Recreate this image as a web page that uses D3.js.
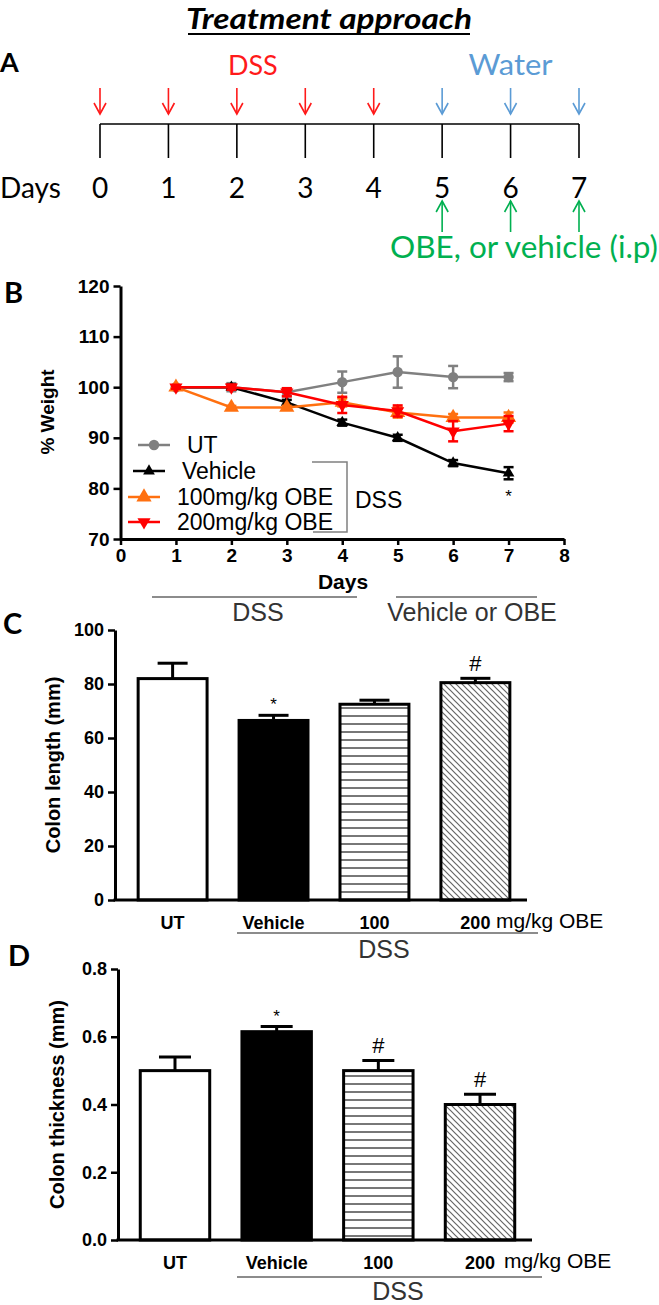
<!DOCTYPE html>
<html><head><meta charset="utf-8">
<script src="https://cdn.jsdelivr.net/npm/d3@7"></script>
<style>body{margin:0;background:#fff}svg{display:block}</style>
</head><body>
<svg id="fig" width="659" height="1305"></svg>
<script>
// ---------------- DATA ----------------
const timelineDays = [0,1,2,3,4,5,6,7];
const dssDays = [0,1,2,3,4];
const waterDays = [5,6,7];
const treatDays = [5,6,7];

const weightDays = [1,2,3,4,5,6,7];
const weightUT = [100,100,99,101,103,102,102];
const weightUTErr = [0.3,0.8,0.8,2.1,3.1,2.2,0.8];
const weightVehicle = [100,100,97,93,90,85,83];
const weightVehicleErr = [0.3,0.5,0.5,0.6,0.6,0.6,1.2];
const weight100 = [100,96,96,97,95,94,94];
const weight100Err = [0.3,0.3,0.3,0.8,1.0,0.7,1.0];
const weight200 = [100,100,99,96.5,95.3,91.3,92.8];
const weight200Err = [0.3,0.5,0.8,1.6,1.1,2.0,1.5];
const weightYTicks = [70,80,90,100,110,120];
const weightXTicks = [0,1,2,3,4,5,6,7,8];
const weightSeriesNames = ["UT","Vehicle","100mg/kg OBE","200mg/kg OBE"];

const groups = ["UT","Vehicle","100","200"];
const colonLength = [82,66.5,72.5,80.5];
const colonLengthErr = [5.7,1.9,1.5,1.6];
const colonLengthMarks = ["","*","","#"];
const colonLengthTicks = [0,20,40,60,80,100];
const colonThickness = [0.50,0.615,0.50,0.40];
const colonThicknessErr = [0.04,0.015,0.03,0.03];
const colonThicknessMarks = ["","*","#","#"];
const colonThicknessTicks = [0,0.2,0.4,0.6,0.8];

// ---------------- SETUP ----------------
const svg = d3.select("#fig");
const SANS = "'Liberation Sans', Arial, sans-serif";
const CAL = "Lato, 'Open Sans', sans-serif";
const RED = "#ff1a1a", BLUE = "#5b9bd5", GREEN = "#00b050";
const ORANGE = "#ff7010", GRAY = "#808080";

const defs = svg.append("defs");
const hp = defs.append("pattern").attr("id","hstripe").attr("patternUnits","userSpaceOnUse")
  .attr("width",8).attr("height",8);
hp.append("rect").attr("width",8).attr("height",8).attr("fill","#fff");
hp.append("line").attr("x1",0).attr("x2",8).attr("y1",4).attr("y2",4)
  .attr("stroke","#555").attr("stroke-width",1.6);
const dp = defs.append("pattern").attr("id","dstripe").attr("patternUnits","userSpaceOnUse")
  .attr("width",6).attr("height",6);
dp.append("rect").attr("width",6).attr("height",6).attr("fill","#fff");
dp.append("path").attr("d","M-1,-1 L7,7 M-4,2 L4,10 M2,-4 L10,4")
  .attr("stroke","#666").attr("stroke-width",1.2);

function txt(g, x, y, s, o) {
  o = o || {};
  return g.append("text").attr("x",x).attr("y",y).text(s)
    .attr("font-family", o.ff || SANS).attr("font-size", o.fs || 16)
    .attr("font-weight", o.fw || "normal").attr("font-style", o.fst || "normal")
    .attr("fill", o.fill || "#000").attr("text-anchor", o.anchor || "start");
}

// ---------------- PANEL A ----------------
const gA = svg.append("g");
const title = txt(gA, 329, 29, "Treatment approach", {ff:CAL, fs:28, fw:"bold", fst:"italic", anchor:"middle"})
  .attr("textLength", 286).attr("lengthAdjust", "spacingAndGlyphs");
const tb = title.node().getBBox();
gA.append("line").attr("x1",tb.x+2).attr("x2",tb.x+tb.width-2).attr("y1",34).attr("y2",34)
  .attr("stroke","#000").attr("stroke-width",2);
txt(gA, 0, 72, "A", {ff:CAL, fs:27, fw:"bold"});

const xA = d3.scaleLinear().domain([0,7]).range([100,579]);
txt(gA, xA(2) + 16, 75, "DSS", {ff:CAL, fs:27, fill:RED, anchor:"middle"});
txt(gA, xA(6), 75, "Water", {ff:CAL, fs:28, fill:BLUE, anchor:"middle"})
  .attr("textLength", 84).attr("lengthAdjust", "spacingAndGlyphs");

function arrow(g, x, yTail, yHead, col) {
  const dir = yHead > yTail ? 1 : -1;
  g.append("line").attr("x1",x).attr("x2",x).attr("y1",yTail).attr("y2",yHead)
    .attr("stroke",col).attr("stroke-width",1.6);
  g.append("path").attr("d",`M${x-6},${yHead-dir*11} L${x},${yHead} L${x+6},${yHead-dir*11}`)
    .attr("fill","none").attr("stroke",col).attr("stroke-width",1.6);
}
dssDays.forEach(d => arrow(gA, xA(d), 88, 114, RED));
waterDays.forEach(d => arrow(gA, xA(d), 88, 114, BLUE));
gA.append("line").attr("x1",xA(0)).attr("x2",xA(7)).attr("y1",124).attr("y2",124)
  .attr("stroke","#000").attr("stroke-width",1.6);
timelineDays.forEach(d => {
  gA.append("line").attr("x1",xA(d)).attr("x2",xA(d)).attr("y1",124).attr("y2",158)
    .attr("stroke","#000").attr("stroke-width",1.6);
  txt(gA, xA(d), 198, String(d), {ff:CAL, fs:28, anchor:"middle"});
});
txt(gA, 0, 198, "Days", {ff:CAL, fs:28});
treatDays.forEach(d => arrow(gA, xA(d), 232, 201, GREEN));
txt(gA, 658, 258, "OBE, or vehicle (i.p)", {ff:CAL, fs:30, fill:GREEN, anchor:"end"})
  .attr("textLength", 268).attr("lengthAdjust", "spacingAndGlyphs");

// ---------------- PANEL B ----------------
const gB = svg.append("g");
txt(gB, 4, 303, "B", {ff:CAL, fs:29, fw:"bold"});
const xB = d3.scaleLinear().domain([0,8]).range([120.5,564]);
const yB = d3.scaleLinear().domain([70,120]).range([539,286]);

const axYB = gB.append("g").attr("transform","translate(120.5,0)")
  .call(d3.axisLeft(yB).tickValues(weightYTicks).tickSize(7).tickSizeOuter(0).tickPadding(4));
const axXB = gB.append("g").attr("transform","translate(0,539)")
  .call(d3.axisBottom(xB).tickValues(weightXTicks).tickSize(6).tickSizeOuter(0).tickPadding(4));
[axYB, axXB].forEach(a => {
  a.select(".domain").attr("stroke-width",3);
  a.selectAll(".tick line").attr("stroke-width",2.5);
  a.selectAll("text").attr("font-family",SANS).attr("font-size",19).attr("font-weight","bold").attr("fill","#000");
});
gB.append("text").attr("transform","translate(54,412) rotate(-90)").attr("text-anchor","middle")
  .attr("font-family",SANS).attr("font-size",19).attr("font-weight","bold").text("% Weight");
txt(gB, 343, 589, "Days", {fs:21, fw:"bold", anchor:"middle"});

const seriesB = [
  {vals:weightUT, err:weightUTErr, col:GRAY, sym:d3.symbolCircle, size:85, rot:0},
  {vals:weightVehicle, err:weightVehicleErr, col:"#000", sym:d3.symbolTriangle, size:60, rot:0},
  {vals:weight100, err:weight100Err, col:ORANGE, sym:d3.symbolTriangle, size:100, rot:0},
  {vals:weight200, err:weight200Err, col:"#ff0000", sym:d3.symbolTriangle, size:75, rot:180},
];
const lineB = d3.line().x((d,i)=>xB(weightDays[i])).y(d=>yB(d));
seriesB.forEach(s => {
  const g = gB.append("g");
  g.append("path").attr("d", lineB(s.vals)).attr("fill","none").attr("stroke",s.col).attr("stroke-width",2.5);
  s.vals.forEach((v,i) => {
    const x = xB(weightDays[i]), e = s.err[i];
    const y1 = yB(v+e), y2 = yB(v-e);
    g.append("line").attr("x1",x).attr("x2",x).attr("y1",y1).attr("y2",y2).attr("stroke",s.col).attr("stroke-width",2.5);
    [y1,y2].forEach(yy => g.append("line").attr("x1",x-5).attr("x2",x+5).attr("y1",yy).attr("y2",yy)
      .attr("stroke",s.col).attr("stroke-width",2.5));
    g.append("path").attr("d", d3.symbol().type(s.sym).size(s.size)())
      .attr("transform",`translate(${x},${yB(v)}) rotate(${s.rot})`).attr("fill",s.col);
  });
});
txt(gB, xB(7), 502, "*", {fs:17, anchor:"middle"});

// legend
const legY = [445, 471, 497, 522];
const legX0 = [138, 133, 128, 128];
seriesB.forEach((s,i) => {
  const y = legY[i], x0 = legX0[i];
  gB.append("line").attr("x1",x0).attr("x2",x0+32).attr("y1",y).attr("y2",y).attr("stroke",s.col).attr("stroke-width",2.5);
  gB.append("path").attr("d", d3.symbol().type(s.sym).size(s.size)())
    .attr("transform",`translate(${x0+16},${y}) rotate(${s.rot})`).attr("fill",s.col);
  txt(gB, x0+49, y+8, weightSeriesNames[i], {fs:23});
});
gB.append("path").attr("d","M312,462 H347 V532 H313").attr("fill","none").attr("stroke",GRAY).attr("stroke-width",1.5);
txt(gB, 355, 508, "DSS", {fs:23});

gB.append("line").attr("x1",152).attr("x2",357).attr("y1",597).attr("y2",597).attr("stroke","#666").attr("stroke-width",1.5);
gB.append("line").attr("x1",396).attr("x2",537).attr("y1",597).attr("y2",597).attr("stroke","#666").attr("stroke-width",1.5);
txt(gB, 258, 621, "DSS", {fs:25, fill:"#333", anchor:"middle"});
txt(gB, 472, 621, "Vehicle or OBE", {fs:25, fill:"#333", anchor:"middle"});

// ---------------- BAR PANELS ----------------
function barPanel(cfg) {
  const g = svg.append("g");
  txt(g, cfg.labX, cfg.labY, cfg.label, {ff:CAL, fs:29, fw:"bold"});
  const y = d3.scaleLinear().domain(cfg.domain).range([cfg.y0, cfg.y1]);
  const x = d3.scaleBand().domain(groups).range(cfg.xr).paddingInner(0.317).paddingOuter(0.16);
  const bw = x.bandwidth();
  const fills = ["#fff","#000","url(#hstripe)","url(#dstripe)"];
  groups.forEach((k,i) => {
    const v = cfg.vals[i], e = cfg.err[i], cx = x(k) + bw/2;
    g.append("rect").attr("x",x(k)).attr("y",y(v)).attr("width",bw).attr("height",y(0)-y(v))
      .attr("fill",fills[i]).attr("stroke","#000").attr("stroke-width",3);
    const yc = y(v+e);
    g.append("line").attr("x1",cx).attr("x2",cx).attr("y1",y(v)).attr("y2",yc).attr("stroke","#000").attr("stroke-width",3);
    g.append("line").attr("x1",cx-cfg.cap).attr("x2",cx+cfg.cap).attr("y1",yc).attr("y2",yc).attr("stroke","#000").attr("stroke-width",3);
    const m = cfg.marks[i];
    if (m === "*") txt(g, cx, yc-14+9, "*", {fs:17, anchor:"middle"});
    if (m === "#") txt(g, cx, yc-15+8, "#", {fs:22, anchor:"middle"});
    txt(g, cx, cfg.catY, k, {fs:18, fw:"bold", anchor:"middle"});
  });
  const ax = g.append("g").attr("transform",`translate(${cfg.axX},0)`)
    .call(d3.axisLeft(y).tickValues(cfg.ticks).tickFormat(cfg.fmt).tickSize(7).tickSizeOuter(0).tickPadding(4));
  ax.select(".domain").attr("stroke-width",3);
  ax.selectAll(".tick line").attr("stroke-width",2.5);
  ax.selectAll("text").attr("font-family",SANS).attr("font-size",18).attr("font-weight","bold").attr("fill","#000");
  g.append("line").attr("x1",cfg.axX-1.5).attr("x2",cfg.xEnd).attr("y1",y(0)).attr("y2",y(0)).attr("stroke","#000").attr("stroke-width",3);
  g.append("text").attr("transform",`translate(${cfg.titleX},${(cfg.y0+cfg.y1)/2}) rotate(-90)`).attr("text-anchor","middle")
    .attr("font-family",SANS).attr("font-size",20).attr("font-weight","bold").text(cfg.title);
  txt(g, cfg.unitX, cfg.catY-1, "mg/kg OBE", {fs:21});
  g.append("line").attr("x1",cfg.dssL[0]).attr("x2",cfg.dssL[1]).attr("y1",cfg.dssY).attr("y2",cfg.dssY)
    .attr("stroke","#666").attr("stroke-width",1.5);
  txt(g, cfg.dssX, cfg.dssTY, "DSS", {fs:25, fill:"#333", anchor:"middle"});
}

barPanel({label:"C", labX:3, labY:634, domain:[0,100], y0:900, y1:630, xr:[122,526],
  vals:colonLength, err:colonLengthErr, marks:colonLengthMarks, ticks:colonLengthTicks, fmt:d3.format("d"),
  cap:15, axX:115, xEnd:527, catY:929, titleX:60, title:"Colon length (mm)", unitX:496,
  dssL:[237,538], dssY:933, dssX:384, dssTY:958});

barPanel({label:"D", labX:8, labY:966, domain:[0,0.8], y0:1240, y1:969, xr:[124,531],
  vals:colonThickness, err:colonThicknessErr, marks:colonThicknessMarks, ticks:colonThicknessTicks, fmt:d3.format(".1f"),
  cap:16, axX:118, xEnd:532, catY:1269, titleX:64, title:"Colon thickness (mm)", unitX:504,
  dssL:[237,542], dssY:1277, dssX:398, dssTY:1300});
</script>
</body></html>
